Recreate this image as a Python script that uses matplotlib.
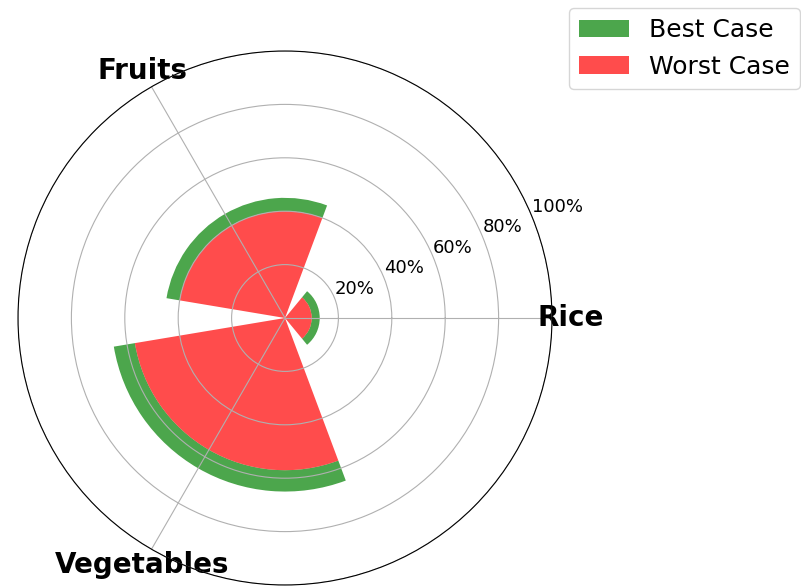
import numpy as np
import matplotlib
matplotlib.use("Agg")
import matplotlib.pyplot as plt

# food categories and outcome percentages
categories = ["Rice", "Fruits", "Vegetables"]
best_case = np.array([13, 45, 65])
worst_case = np.array([10, 40, 57])
r_ticks = [20, 40, 60, 80, 100]
r_tick_labels = ["20%", "40%", "60%", "80%", "100%"]

angles = np.linspace(0, 2 * np.pi, len(categories), endpoint=False)
bar_width = np.radians(101)

fig = plt.figure(figsize=(8.01, 5.88), dpi=100)
W, H = 801, 588
ax = fig.add_axes([18 / W, 3 / H, 534 / W, 534 / H], projection="polar")

# best case sits on top of the worst case band
ax.bar(angles, best_case - worst_case, bottom=worst_case, width=bar_width,
       color="green", alpha=0.7, label="Best Case")
ax.bar(angles, worst_case, width=bar_width, color="red", alpha=0.7, label="Worst Case")

ax.set_ylim(0, 100)
ax.set_yticks(r_ticks)
ax.set_yticklabels(r_tick_labels, fontsize=13)
ax.set_xticks(angles)
ax.set_xticklabels(categories, fontsize=20, fontweight="bold")
ax.tick_params(axis="x", pad=3)
ax.grid(True, color="#b0b0b0", linewidth=0.8)

fig.legend(loc="upper right", bbox_to_anchor=(800 / W, 1 - 8 / H),
           bbox_transform=fig.transFigure, borderaxespad=0, fontsize=18)

fig.savefig("out.png", dpi=100)
